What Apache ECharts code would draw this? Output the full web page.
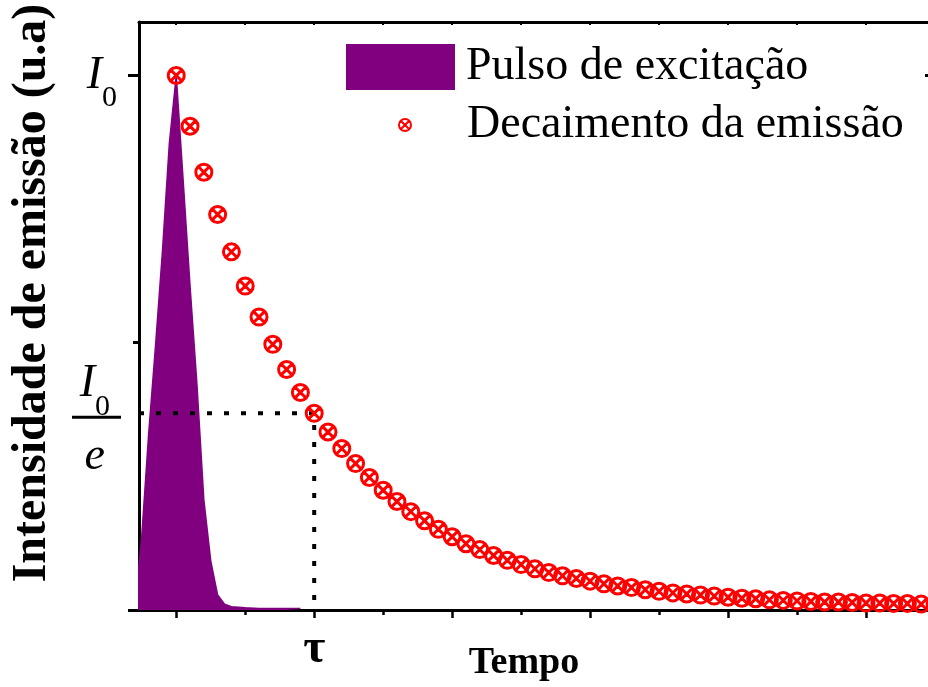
<!DOCTYPE html>
<html>
<head>
<meta charset="utf-8">
<script src="https://cdn.jsdelivr.net/npm/echarts@6/dist/echarts.min.js"></script>
<style>
  html, body { margin: 0; padding: 0; background: #ffffff; }
  #chart { width: 928px; height: 687px; }
</style>
</head>
<body>
<div id="chart"></div>
<script>
// Excitation pulse (time, normalised intensity)
const pulseTime  = [-0.30, -0.25, -0.20, -0.15, -0.10, -0.05, 0.00, 0.05, 0.10, 0.15, 0.20, 0.25, 0.30, 0.35, 0.40, 0.50, 0.60, 0.70, 0.80, 0.90];
const pulseValue = [0.005, 0.138, 0.329, 0.495, 0.671, 0.873, 1.000, 0.804, 0.606, 0.422, 0.206, 0.092, 0.028, 0.011, 0.006, 0.004, 0.003, 0.003, 0.003, 0.003];

// Emission decay samples
const decayTime = [
  0.0, 0.1, 0.2, 0.3, 0.4, 0.5, 0.6, 0.7, 0.8, 0.9,
  1.0, 1.1, 1.2, 1.3, 1.4, 1.5, 1.6, 1.7, 1.8, 1.9,
  2.0, 2.1, 2.2, 2.3, 2.4, 2.5, 2.6, 2.7, 2.8, 2.9,
  3.0, 3.1, 3.2, 3.3, 3.4, 3.5, 3.6, 3.7, 3.8, 3.9,
  4.0, 4.1, 4.2, 4.3, 4.4, 4.5, 4.6, 4.7, 4.8, 4.9,
  5.0, 5.1, 5.2, 5.3, 5.4, 5.5
];
const decayValue = [
  1.000, 0.905, 0.819, 0.740, 0.670, 0.606, 0.548, 0.497, 0.450, 0.407,
  0.368, 0.333, 0.302, 0.274, 0.248, 0.224, 0.203, 0.184, 0.167, 0.151,
  0.137, 0.124, 0.113, 0.102, 0.093, 0.085, 0.077, 0.070, 0.064, 0.059,
  0.054, 0.049, 0.045, 0.042, 0.038, 0.035, 0.032, 0.030, 0.028, 0.026,
  0.024, 0.022, 0.021, 0.019, 0.018, 0.017, 0.016, 0.015, 0.015, 0.014,
  0.013, 0.013, 0.012, 0.012, 0.011, 0.011
];

// Lifetime marker: tau and the I0/e level
const tauTime  = 1;
const tauLevel = 0.368;

// Axis ranges and ticks
const xMin = -0.27, xMax = 5.5;
const yMin = 0, yMax = 1.1;
const xMajorTicks = [0, 1, 2, 3, 4, 5];
const xMinorTicks = [0.5, 1.5, 2.5, 3.5, 4.5];
const yMajorTicks = [0, 1];
const yMinorTicks = [0.5];

const serif = '"Liberation Serif", "Times New Roman", serif';
const black = '#000000';
const purple = '#800080';
const red = '#ff0000';

// circle with a cross through it
const crossCircle = 'path://M1,0 C1,0.5523 0.5523,1 0,1 C-0.5523,1 -1,0.5523 -1,0 C-1,-0.5523 -0.5523,-1 0,-1 C0.5523,-1 1,-0.5523 1,0 Z M-0.8,-0.8 L0.8,0.8 M-0.8,0.8 L0.8,-0.8';

// rich styles for the italic I with subscript 0
const iStyle = { fontFamily: serif, fontStyle: 'italic', fontSize: 46, lineHeight: 46, verticalAlign: 'top', color: black };
const subStyle = { fontFamily: serif, fontSize: 30, lineHeight: 30, padding: [31, 4, 0, 0], verticalAlign: 'top', color: black };

const chart = echarts.init(document.getElementById('chart'), null, { renderer: 'canvas' });

const hiddenSplit = { show: false };

// invisible value axis sharing the y scale, used for extra ticks / labels
function sideAxis(position, extra) {
  return Object.assign({
    type: 'value', min: yMin, max: yMax, position: position,
    axisLine: { show: false, onZero: false },
    axisTick: { show: false },
    axisLabel: { show: false },
    splitLine: hiddenSplit
  }, extra);
}

chart.setOption({
  backgroundColor: '#ffffff',
  animation: false,
  grid: { left: 139, top: 22, bottom: 77, right: -7, containLabel: false, outerBoundsMode: 'none' },
  legend: [
    {
      data: [{ name: 'Pulso de excitação', icon: 'rect' }],
      left: 346, top: 44, padding: 0,
      itemWidth: 109, itemHeight: 46,
      selectedMode: false,
      textStyle: { fontFamily: serif, fontSize: 46, color: black, padding: [0, 0, 0, 6] }
    },
    {
      data: ['Decaimento da emissão'],
      left: 398, top: 102, padding: 0,
      itemWidth: 102, itemHeight: 12,
      selectedMode: false,
      textStyle: { fontFamily: serif, fontSize: 46, color: black, padding: [0, 0, 0, 6] }
    }
  ],
  xAxis: [
    {
      type: 'value', min: xMin, max: xMax, position: 'bottom',
      axisLine: { onZero: false, lineStyle: { color: black, width: 3 } },
      axisTick: { customValues: xMajorTicks, length: 8, lineStyle: { color: black, width: 2.5 } },
      axisLabel: {
        customValues: [tauTime], formatter: () => 'τ',
        fontFamily: serif, fontWeight: 'bold', fontSize: 48, color: black, margin: 16
      },
      splitLine: hiddenSplit,
      name: 'Tempo', nameLocation: 'middle', nameGap: 34, nameMoveOverlap: false,
      nameTextStyle: { fontFamily: serif, fontWeight: 'bold', fontSize: 38, color: black, padding: [0, 26, 0, 0] }
    },
    {
      type: 'value', min: xMin, max: xMax, position: 'bottom',
      axisLine: { show: false, onZero: false },
      axisTick: { customValues: xMinorTicks, length: 5, lineStyle: { color: black, width: 2.5 } },
      axisLabel: { show: false },
      splitLine: hiddenSplit
    },
    {
      type: 'value', min: xMin, max: xMax, position: 'top',
      axisLine: { onZero: false, lineStyle: { color: black, width: 3 } },
      axisTick: { inside: true, customValues: xMajorTicks.concat(xMinorTicks), length: 3, lineStyle: { color: black, width: 2 } },
      axisLabel: { show: false },
      splitLine: hiddenSplit
    }
  ],
  yAxis: [
    {
      // main left axis: I0 label and the fraction bar of I0/e
      type: 'value', min: yMin, max: yMax, position: 'left',
      axisLine: { onZero: false, lineStyle: { color: black, width: 3 } },
      axisTick: { customValues: yMajorTicks, length: 11, lineStyle: { color: black, width: 3 } },
      axisLabel: {
        customValues: [1, tauLevel],
        margin: 18,
        formatter: (v) => v === 1 ? '{i|I}{s|0}' : '{sp|}{bar|}',
        rich: {
          i: iStyle,
          s: subStyle,
          sp: { width: 0, height: 11, lineHeight: 11 },
          bar: { width: 49, height: 3, lineHeight: 3, backgroundColor: black, verticalAlign: 'bottom' }
        }
      },
      splitLine: hiddenSplit,
      name: 'Intensidade de emissão (u.a)', nameLocation: 'middle', nameRotate: 90, nameGap: 82, nameMoveOverlap: false,
      nameTextStyle: { fontFamily: serif, fontWeight: 'bold', fontSize: 48, color: black, padding: [0, 0, 0, 46] }
    },
    // minor tick at half height, plus the numerator I0 of I0/e
    sideAxis('left', {
      axisTick: { show: true, customValues: yMinorTicks, length: 6, lineStyle: { color: black, width: 3 } },
      axisLabel: {
        show: true, customValues: [tauLevel], margin: 25,
        formatter: () => '{i|I}{s|0}{sp|}',
        rich: {
          i: iStyle,
          s: subStyle,
          sp: { width: 0, height: 105, lineHeight: 105, verticalAlign: 'top' }
        }
      }
    }),
    // right frame line with inward ticks
    sideAxis('right', {
      axisLine: { show: true, onZero: false, lineStyle: { color: black, width: 3 } },
      axisTick: { show: true, inside: true, customValues: yMajorTicks, length: 10, lineStyle: { color: black, width: 3 } }
    }),
    // denominator e of I0/e
    sideAxis('left', {
      axisLabel: {
        show: true, customValues: [tauLevel], margin: 34,
        formatter: () => '{e|e}',
        rich: {
          e: { fontFamily: serif, fontStyle: 'italic', fontSize: 46, lineHeight: 46, padding: [44, 0, 0, 0], verticalAlign: 'top', color: black }
        }
      }
    })
  ],
  series: [
    {
      name: 'Pulso de excitação',
      type: 'line',
      xAxisIndex: 0, yAxisIndex: 0,
      data: pulseTime.map((t, i) => [t, pulseValue[i]]),
      symbol: 'none',
      color: purple,
      itemStyle: { color: purple },
      lineStyle: { color: purple, width: 1.5 },
      areaStyle: { color: purple, opacity: 1 },
      silent: true,
      z: 2
    },
    {
      name: 'tau-guide',
      type: 'line',
      xAxisIndex: 0, yAxisIndex: 0,
      data: [[xMin, tauLevel], [tauTime, tauLevel], [tauTime, 0]],
      symbol: 'none',
      lineStyle: { color: black, width: 4, type: [5, 12], cap: 'butt' },
      silent: true,
      z: 3
    },
    {
      name: 'Decaimento da emissão',
      type: 'scatter',
      xAxisIndex: 0, yAxisIndex: 0,
      data: decayTime.map((t, i) => [t, decayValue[i]]),
      symbol: crossCircle,
      symbolSize: 16,
      itemStyle: { color: 'rgba(0,0,0,0)', borderColor: red, borderWidth: 3, opacity: 1 },
      silent: true,
      z: 4
    }
  ]
});
</script>
</body>
</html>
